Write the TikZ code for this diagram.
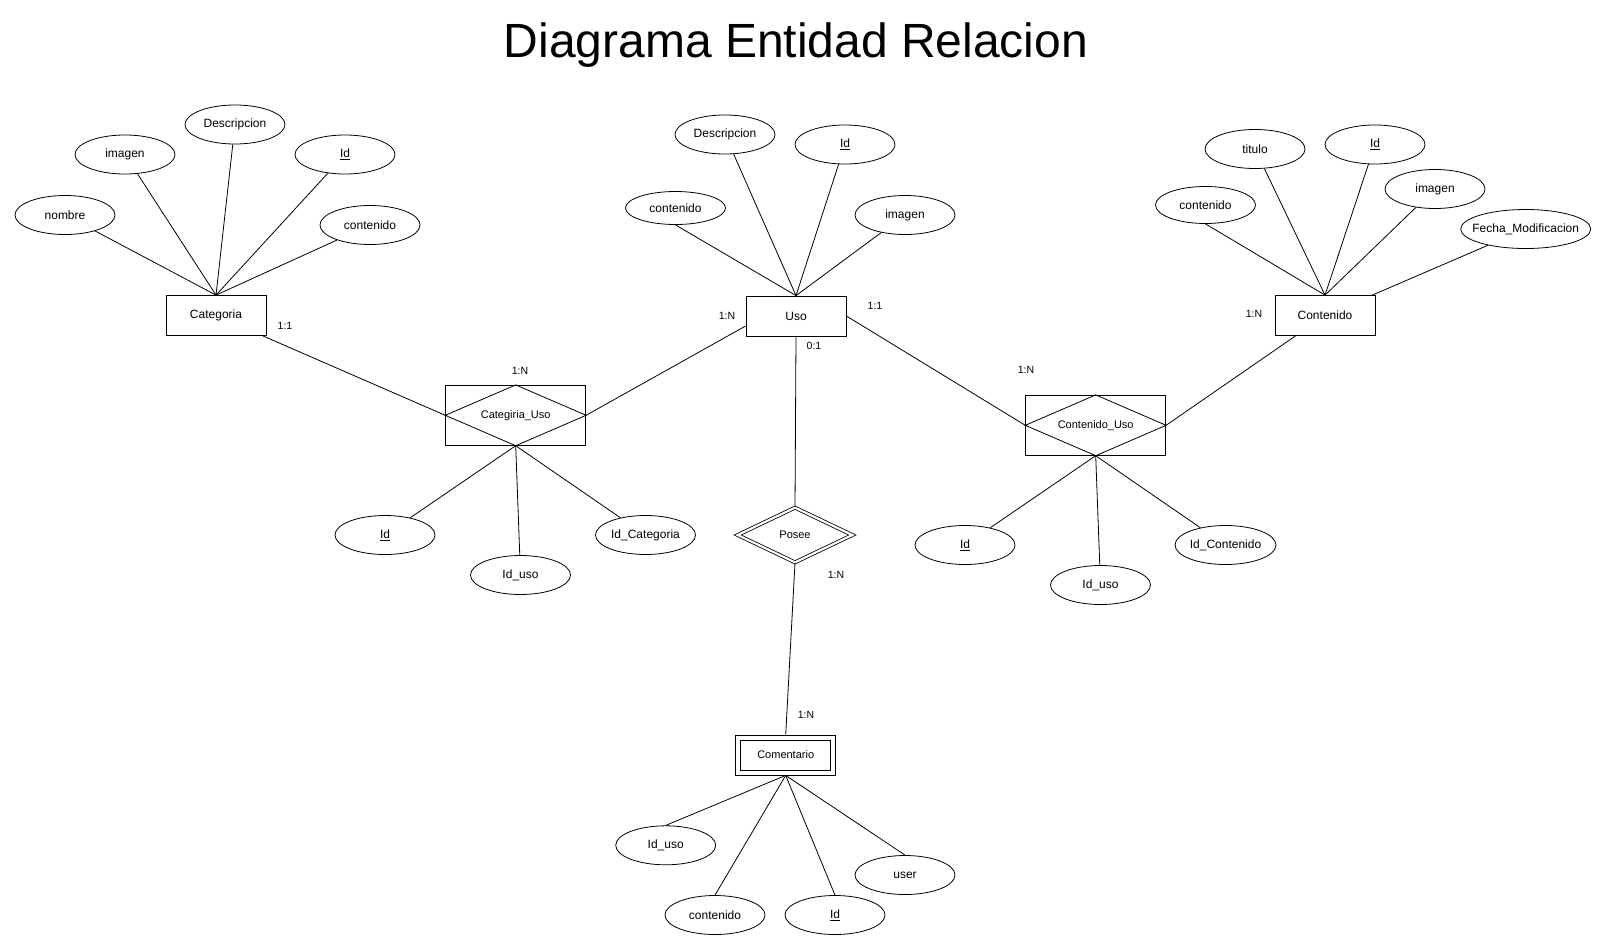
\documentclass[tikz,border=0pt]{standalone}
\usepackage{fontspec}
\setmainfont{Liberation Sans}
\usetikzlibrary{shapes.geometric}
\tikzset{
  attr/.style={draw, ellipse, line width=0.8pt, minimum width=100pt, minimum height=39pt, inner sep=0pt, font=\fontsize{12}{14}\selectfont},
  ent/.style={draw, rectangle, line width=0.8pt, minimum width=100pt, minimum height=40pt, inner sep=0pt, font=\fontsize{12}{14}\selectfont},
  relbox/.style={draw, rectangle, line width=0.8pt, minimum width=140pt, minimum height=60pt, inner sep=0pt, font=\fontsize{11}{13}\selectfont},
  card/.style={inner sep=0pt, font=\fontsize{10.5}{12}\selectfont},
  conn/.style={line width=0.8pt},
}
\begin{document}
\begin{tikzpicture}[x=1pt,y=-1pt]
\useasboundingbox (0,0) rectangle (1606,951);
\node[font=\fontsize{48}{56}\selectfont, inner sep=0pt] (title) at (796,45) {Diagrama Entidad Relacion};

% entities
\node[ent] (cat) at (216,315.5) {Categoria};
\node[ent] (uso) at (796,316) {Uso};
\node[ent] (cont) at (1325,315.5) {Contenido};
\node[ent, font=\fontsize{11}{13}\selectfont] (com) at (785.7,755) {Comentario};
\draw[conn] ([shift={(5.5,5.5)}]com.north west) rectangle ([shift={(-5.5,-5.5)}]com.south east);

% relations
\node[relbox] (cau) at (515.7,415.3) {Categiria\_Uso};
\draw[conn] (cau.north) -- (cau.east) -- (cau.south) -- (cau.west) -- cycle;
\node[relbox] (cou) at (1095.7,425.3) {Contenido\_Uso};
\draw[conn] (cou.north) -- (cou.east) -- (cou.south) -- (cou.west) -- cycle;
\node[draw, diamond, double, double distance=2.2pt, line width=0.8pt, minimum width=115pt, minimum height=55pt, inner sep=0pt, font=\fontsize{11}{13}\selectfont] (posee) at (795,535) {Posee};

% Categoria attributes
\node[attr] (cnombre) at (65,215) {nombre};
\node[attr] (cimagen) at (125,154.5) {imagen};
\node[attr] (cdesc) at (235,124.5) {Descripcion};
\node[attr] (cid) at (345,154.5) {\underline{Id}};
\node[attr] (ccont) at (370,225) {contenido};
\foreach \a in {cnombre,cimagen,cdesc,cid,ccont} \draw[conn] (\a) -- (cat.north);

% Uso attributes
\node[attr, minimum height=33pt] (ucont) at (675.5,208) {contenido};
\node[attr] (udesc) at (725,134.5) {Descripcion};
\node[attr] (uid) at (845,144.5) {\underline{Id}};
\node[attr] (uimagen) at (905,215) {imagen};
\draw[conn] (ucont.south) -- (uso.north);
\foreach \a in {udesc,uid,uimagen} \draw[conn] (\a) -- (uso.north);

% Contenido attributes
\node[attr, minimum height=37pt] (tcont) at (1205.5,205) {contenido};
\node[attr] (ttitulo) at (1255,149) {titulo};
\node[attr] (tid) at (1375,144.5) {\underline{Id}};
\node[attr] (timagen) at (1435,189) {imagen};
\node[attr, minimum width=130pt] (tfecha) at (1525.7,229) {\makebox[0pt]{Fecha\_Modificacion}};
\draw[conn] (tcont.south) -- (cont.north);
\foreach \a in {ttitulo,tid,timagen} \draw[conn] (\a) -- (cont.north);
\draw[conn] (tfecha) -- (cont);

% Categiria_Uso attributes
\node[attr] (aid) at (385,535) {\underline{Id}};
\node[attr] (auso) at (520.5,575) {Id\_uso};
\node[attr] (acat) at (645.5,535) {Id\_Categoria};
\foreach \a in {aid,auso,acat} \draw[conn] (\a) -- (cau.south);

% Contenido_Uso attributes
\node[attr] (bid) at (965,545) {\underline{Id}};
\node[attr] (buso) at (1100.5,585) {Id\_uso};
\node[attr] (bcont) at (1225.5,545) {Id\_Contenido};
\foreach \a in {bid,buso,bcont} \draw[conn] (\a) -- (cou.south);

% Comentario attributes
\node[attr] (muso) at (665.7,845.3) {Id\_uso};
\node[attr] (mcont) at (715,915) {contenido};
\node[attr] (mid) at (835,915) {\underline{Id}};
\node[attr] (muser) at (905,875) {user};
\foreach \a in {muso,mcont,mid,muser} \draw[conn] (\a.north) -- (com.south);

% relationship connectors
\draw[conn] (cat) -- (cau.west);
\draw[conn] (cau.east) -- ([yshift=-10pt]uso.west);
\draw[conn] (uso.east) -- (cou.west);
\draw[conn] (cou.east) -- (cont);
\draw[conn] (uso.south) -- (posee.north);
\draw[conn] (posee.south) -- (com.north);

% cardinalities
\node[card] (k1) at (285,326) {1:1};
\node[card] (k2) at (727,316) {1:N};
\node[card] (k3) at (875,306) {1:1};
\node[card] (k4) at (814,346) {0:1};
\node[card] (k5) at (520,371) {1:N};
\node[card] (k6) at (1026,370) {1:N};
\node[card] (k7) at (1254,314) {1:N};
\node[card] (k8) at (836,575) {1:N};
\node[card] (k9) at (806,715) {1:N};
\end{tikzpicture}
\end{document}
